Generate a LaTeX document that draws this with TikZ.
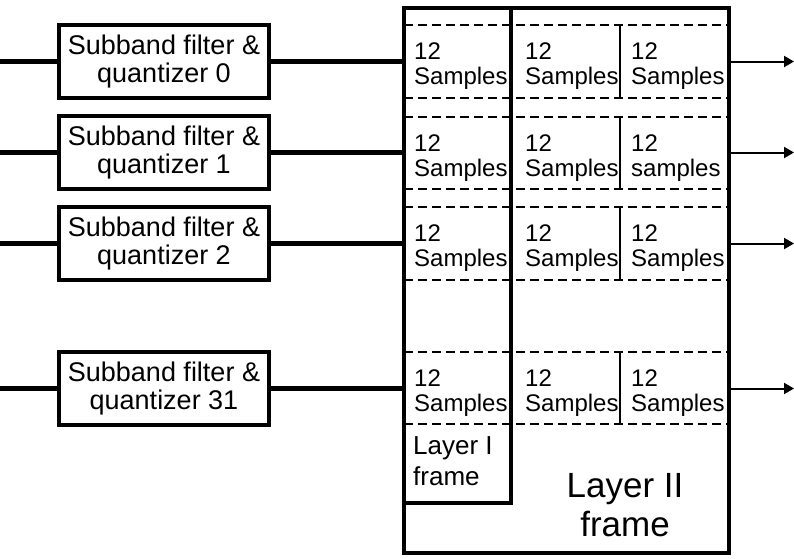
\documentclass[tikz,border=0pt]{standalone}
\usepackage{fontspec}
\setmainfont{Liberation Sans}
\usepackage{tikz}
\usetikzlibrary{arrows.meta, positioning}
\tikzstyle{block} = [rectangle, draw, line width=3.6pt, outer sep=0pt, inner sep=0pt, minimum width=210pt, minimum height=73pt, align=center, font=\fontsize{27}{28}\selectfont]
\tikzstyle{cell} = [anchor=west, align=left, inner sep=0pt, font=\fontsize{24}{25}\selectfont]
\tikzstyle{frm} = [rectangle, draw, line width=4.6pt, outer sep=0pt, inner sep=0pt]
\tikzstyle{wire} = [line width=4.4pt]
\tikzstyle{slot} = [line width=2pt, dash pattern=on 9pt off 5pt]
\tikzstyle{sep} = [line width=2pt]
\tikzstyle{arrow} = [line width=2pt, -{Triangle[length=10pt, width=11pt]}]

\begin{document}
\begin{tikzpicture}[x=1pt, y=-1pt, node distance=18pt]
  \useasboundingbox (0,0) rectangle (794,558);
  % subband filters
  \node[block] (sb0) at (164,61.5) {Subband filter \&\\quantizer 0};
  \node[block, below=of sb0] (sb1) {Subband filter \&\\quantizer 1};
  \node[block, below=of sb1] (sb2) {Subband filter \&\\quantizer 2};
  \node[block, below=72pt of sb2] (sb31) {Subband filter \&\\quantizer 31};
  % sample slots
  \draw[slot] (404,25) -- (729,25);  \draw[slot] (404,98) -- (729,98);
  \draw[slot] (404,117) -- (729,117); \draw[slot] (404,189) -- (729,189);
  \draw[slot] (404,207) -- (729,207); \draw[slot] (404,280) -- (729,280);
  \draw[slot] (404,352) -- (729,352); \draw[slot] (404,424) -- (729,424);
  \draw[sep] (620,25) -- (620,98);
  \draw[sep] (620,117) -- (620,189);
  \draw[sep] (620,207) -- (620,280);
  \draw[sep] (620,352) -- (620,424);
  \node[cell] (s0a) at (414,66.5) {12\\Samples};
  \node[cell] (s0b) at (525,66.5) {12\\Samples};
  \node[cell] (s0c) at (631,66.5) {12\\Samples};
  \node[cell] (s1a) at (414,158) {12\\Samples};
  \node[cell] (s1b) at (525,158) {12\\Samples};
  \node[cell] (s1c) at (631,158) {12\\samples};
  \node[cell] (s2a) at (414,248.5) {12\\Samples};
  \node[cell] (s2b) at (525,248.5) {12\\Samples};
  \node[cell] (s2c) at (631,248.5) {12\\Samples};
  \node[cell] (s31a) at (414,393) {12\\Samples};
  \node[cell] (s31b) at (525,393) {12\\Samples};
  \node[cell] (s31c) at (631,393) {12\\Samples};
  % frames
  \node[frm, minimum width=325pt, minimum height=545pt] (l2frame) at (566.5,280.5) {};
  \node[frm, minimum width=107pt, minimum height=495pt] (l1frame) at (457.5,255.5) {};
  \node[cell, font=\fontsize{26}{31}\selectfont] (l1lab) at (413,461) {Layer I\\frame};
  \node[align=center, inner sep=0pt, font=\fontsize{35}{39}\selectfont] (l2lab) at (625,505) {Layer II\\frame};
  % inputs and outputs
  \coordinate (in0) at (0,61.5);   \coordinate (out0) at (794,61.5);
  \coordinate (in1) at (0,152.5);  \coordinate (out1) at (794,152.5);
  \coordinate (in2) at (0,243.5);  \coordinate (out2) at (794,243.5);
  \coordinate (in31) at (0,388.5); \coordinate (out31) at (794,388.5);
  \draw[wire] (in0) -- (sb0);   \draw[wire] (sb0) -- (sb0 -| l2frame.west);
  \draw[wire] (in1) -- (sb1);   \draw[wire] (sb1) -- (sb1 -| l2frame.west);
  \draw[wire] (in2) -- (sb2);   \draw[wire] (sb2) -- (sb2 -| l2frame.west);
  \draw[wire] (in31) -- (sb31); \draw[wire] (sb31) -- (sb31 -| l2frame.west);
  \draw[arrow] (out0 -| l2frame.east) -- (out0);
  \draw[arrow] (out1 -| l2frame.east) -- (out1);
  \draw[arrow] (out2 -| l2frame.east) -- (out2);
  \draw[arrow] (out31 -| l2frame.east) -- (out31);
\end{tikzpicture}
\end{document}
